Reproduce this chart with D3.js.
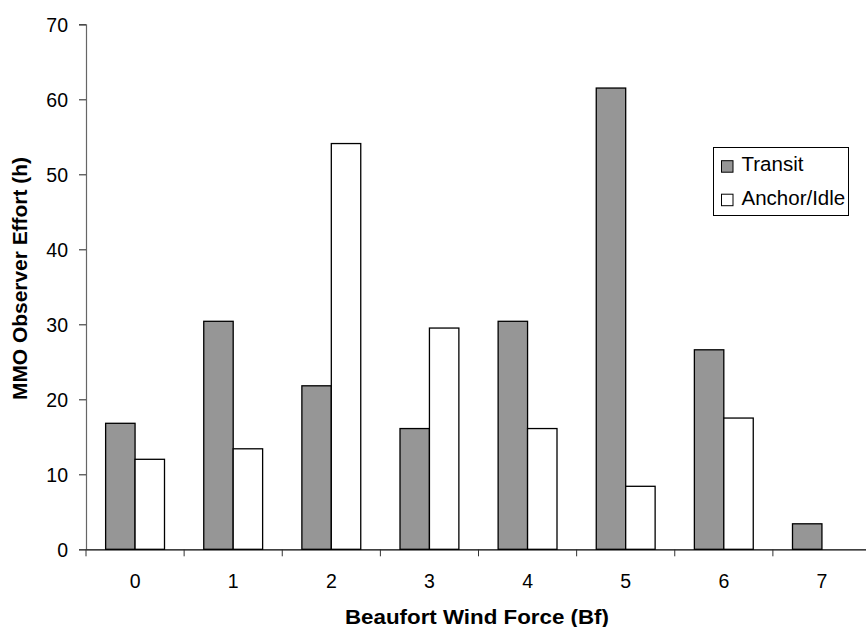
<!DOCTYPE html>
<html>
<head>
<meta charset="utf-8">
<script src="https://cdn.jsdelivr.net/npm/d3@7"></script>
<style>
  html, body { margin: 0; padding: 0; background: #fff; }
  svg { display: block; font-family: "Liberation Sans", Arial, sans-serif; }
</style>
</head>
<body>
<svg id="chart" width="866" height="627"></svg>
<script>
const categories = ["0", "1", "2", "3", "4", "5", "6", "7"];
const seriesNames = ["Transit", "Anchor/Idle"];
const transit = [16.8, 30.4, 21.8, 16.1, 30.4, 61.5, 26.6, 3.4];
const anchorIdle = [12.0, 13.4, 54.1, 29.5, 16.1, 8.4, 17.5, null];
const yTicks = [0, 10, 20, 30, 40, 50, 60, 70];
const seriesFill = ["#969696", "#ffffff"];

(function () {
const svg = d3.select("#chart");
const mLeft = 86, mRight = 871, mTop = 24.3, mBottom = 549.3;
const FONT = "'Liberation Sans', Arial, sans-serif";

const x0 = d3.scaleBand().domain(categories).range([mLeft, mRight]).padding(0);
const x1 = d3.scaleBand().domain(seriesNames)
  .range([x0.bandwidth() * 0.2, x0.bandwidth() * 0.8]).padding(0);
const y = d3.scaleLinear().domain([0, 70]).range([mBottom, mTop]);
const color = d3.scaleOrdinal().domain(seriesNames).range(seriesFill);

const values = [transit, anchorIdle];

// bars
const groups = svg.append("g").selectAll("g")
  .data(categories)
  .join("g")
  .attr("transform", d => `translate(${x0(d)},0)`);

groups.selectAll("rect")
  .data((d, i) => seriesNames.map((s, k) => ({ s, v: values[k][i] })).filter(e => e.v != null))
  .join("rect")
  .attr("x", e => x1(e.s))
  .attr("width", x1.bandwidth())
  .attr("y", e => y(e.v))
  .attr("height", e => y(0) - y(e.v))
  .attr("fill", e => color(e.s))
  .attr("stroke", "#000")
  .attr("stroke-width", 1.3);

// y axis
const yAxis = d3.axisLeft(y).tickValues(yTicks).tickSize(7).tickPadding(11);
const gy = svg.append("g").attr("transform", `translate(${mLeft},0)`).call(yAxis);
gy.select(".domain").attr("stroke", "#666").attr("stroke-width", 1.2);
gy.selectAll(".tick line").attr("stroke", "#333").attr("stroke-width", 1.1);
gy.selectAll(".tick text").attr("font-size", 19.5).attr("fill", "#000")
  .attr("font-family", FONT).attr("dy", "0.36em");

// x axis
const gx = svg.append("g").attr("transform", `translate(0,${mBottom})`)
  .call(d3.axisBottom(x0).tickSize(0).tickPadding(0));
gx.select(".domain").attr("stroke", "#000").attr("stroke-width", 1.2);
gx.selectAll(".tick text").attr("font-size", 19.5).attr("fill", "#000")
  .attr("font-family", FONT).attr("dy", null).attr("y", 39);
gx.selectAll(".sep")
  .data(categories)
  .join("line")
  .attr("class", "sep")
  .attr("x1", d => x0(d)).attr("x2", d => x0(d))
  .attr("y1", 0).attr("y2", 7)
  .attr("stroke", "#333");

// axis titles
svg.append("text")
  .attr("x", 477)
  .attr("y", 624)
  .attr("text-anchor", "middle")
  .attr("font-size", 21)
  .attr("font-weight", "bold")
  .attr("textLength", 264)
  .attr("lengthAdjust", "spacingAndGlyphs")
  .text("Beaufort Wind Force (Bf)");

svg.append("text")
  .attr("transform", `translate(26.5,278.5) rotate(-90)`)
  .attr("text-anchor", "middle")
  .attr("font-size", 21)
  .attr("font-weight", "bold")
  .attr("textLength", 243)
  .attr("lengthAdjust", "spacingAndGlyphs")
  .text("MMO Observer Effort (h)");

// legend
const lg = svg.append("g").attr("transform", "translate(713.5,147.5)");
lg.append("rect").attr("width", 135).attr("height", 68)
  .attr("fill", "#fff").attr("stroke", "#000").attr("stroke-width", 1);
const li = lg.selectAll(".li").data(seriesNames).join("g")
  .attr("class", "li")
  .attr("transform", (d, i) => `translate(8,${18.7 + i * 33.5})`);
li.append("rect").attr("x", 0).attr("y", -5.5).attr("width", 11.5).attr("height", 11.5)
  .attr("fill", d => color(d)).attr("stroke", "#000").attr("stroke-width", 1);
li.append("text").attr("x", 20).attr("y", 5).attr("font-size", 20.5)
  .attr("font-family", FONT)
  .text(d => d);
})();
</script>
</body>
</html>
